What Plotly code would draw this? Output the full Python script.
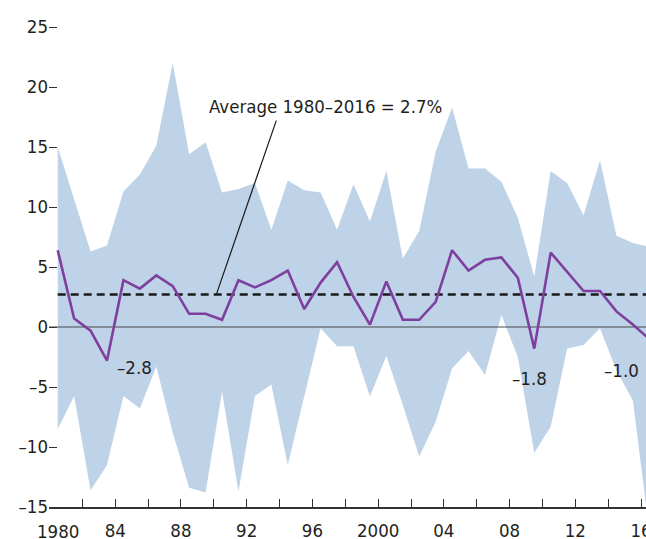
import plotly.graph_objects as go

years = list(range(1980, 2017))
median_growth = [6.4, 0.7, -0.3, -2.8, 3.9, 3.2, 4.3, 3.4, 1.1, 1.1,
                 0.6, 3.9, 3.3, 3.9, 4.7, 1.5, 3.7, 5.4, 2.5, 0.2,
                 3.8, 0.6, 0.6, 2.1, 6.4, 4.7, 5.6, 5.8, 4.1, -1.8,
                 6.2, 4.6, 3.0, 3.0, 1.3, 0.2, -1.0]
upper_bound = [15.0, 10.6, 6.3, 6.8, 11.3, 12.7, 15.1, 22.0, 14.4, 15.4,
               11.2, 11.5, 12.0, 8.1, 12.2, 11.4, 11.2, 8.1, 11.9, 8.8,
               13.0, 5.7, 8.0, 14.6, 18.3, 13.2, 13.2, 12.1, 9.1, 4.2,
               13.0, 12.0, 9.3, 13.9, 7.6, 7.0, 6.7]
lower_bound = [-8.5, -5.75, -13.6, -11.5, -5.75, -6.8, -3.3, -8.8, -13.4, -13.8,
               -5.4, -13.7, -5.75, -4.8, -11.5, -5.8, -0.1, -1.6, -1.6, -5.8,
               -2.4, -6.5, -10.8, -7.9, -3.45, -2.0, -4.0, 1.0, -2.5, -10.5,
               -8.3, -1.8, -1.5, -0.1, -3.6, -6.1, -17.0]
average_value = 2.7
average_label = "Average 1980–2016 = 2.7%"
x_tick_vals = list(range(1980, 2017, 2))
x_tick_text = ["" if (y % 4 != 0 or y == 1980) else ("2000" if y == 2000 else f"{y % 100:02d}")
               for y in x_tick_vals]
y_tick_vals = [-15, -10, -5, 0, 5, 10, 15, 20, 25]
y_tick_text = ["–15", "–10", "–5", "0", "5", "10", "15", "20", "25"]

x_pos = [y + 0.5 for y in years]
x_range = [1979.97, 2016.3]
y_range = [-15, 25.25]

FONT = "DejaVu Sans Condensed, sans-serif"
FS = 18.5
TEXT = "#231F20"
BAND = "#BED2E8"
PURPLE = "#7E3F9E"

fig = go.Figure()
fig.add_trace(go.Scatter(x=x_pos, y=lower_bound, mode="lines",
                         line=dict(width=0, color=BAND), hoverinfo="skip", showlegend=False))
fig.add_trace(go.Scatter(x=x_pos, y=upper_bound, mode="lines", fill="tonexty",
                         fillcolor=BAND, line=dict(width=0, color=BAND),
                         hoverinfo="skip", showlegend=False))
fig.add_trace(go.Scatter(x=x_range, y=[0, 0], mode="lines",
                         line=dict(width=1.2, color="#4a4a4a"), showlegend=False, hoverinfo="skip"))
fig.add_trace(go.Scatter(x=[x_pos[0], x_pos[-1]], y=[average_value, average_value], mode="lines",
                         line=dict(width=2.5, color="#1a1a1a", dash="8px,5px"), showlegend=False))
fig.add_trace(go.Scatter(x=x_pos, y=median_growth, mode="lines",
                         line=dict(width=2.6, color=PURPLE), showlegend=False))

# leader line for the average label
fig.add_shape(type="line", x0=1990.15, y0=average_value, x1=1993.8, y1=17.2,
              line=dict(color="#1a1a1a", width=1.2), layer="above")

fig.add_annotation(x=1996.8, y=18.4, text=average_label, showarrow=False,
                   font=dict(family=FONT, size=FS, color=TEXT))
for txt, xx, yy in [("–2.8", 1985.15, -3.35), ("–1.8", 2009.2, -4.25), ("–1.0", 2014.8, -3.6)]:
    fig.add_annotation(x=xx, y=yy, text=txt, showarrow=False,
                       font=dict(family=FONT, size=FS, color=TEXT))
fig.add_annotation(x=1980.5, y=0, xref="x", yref="paper", yanchor="top", yshift=-12,
                   text="1980", showarrow=False, font=dict(family=FONT, size=FS, color=TEXT))

fig.update_layout(
    width=646, height=539,
    margin=dict(l=49, r=0, t=24, b=32, pad=0),
    plot_bgcolor="white", paper_bgcolor="white",
    font=dict(family=FONT, size=FS, color=TEXT),
    xaxis=dict(range=x_range, tickmode="array", tickvals=x_tick_vals, ticktext=x_tick_text,
               ticks="inside", ticklen=8, tickwidth=1.3, tickcolor="#333333",
               ticklabelstandoff=6, ticklabeloverflow="allow",
               showline=True, linecolor="#333333", linewidth=1.5, automargin=False,
               showgrid=False, zeroline=False, tickfont=dict(family=FONT, size=FS, color=TEXT)),
    yaxis=dict(range=y_range, tickmode="array", tickvals=y_tick_vals, ticktext=y_tick_text,
               ticks="inside", ticklen=8, tickwidth=1.3, tickcolor="#333333", automargin=False,
               showline=False, showgrid=False, zeroline=False,
               tickfont=dict(family=FONT, size=FS, color=TEXT)),
)

fig.write_html("out.html", config={"displayModeBar": False},
               post_script="document.body.style.margin='0';document.body.style.overflow='hidden';")
